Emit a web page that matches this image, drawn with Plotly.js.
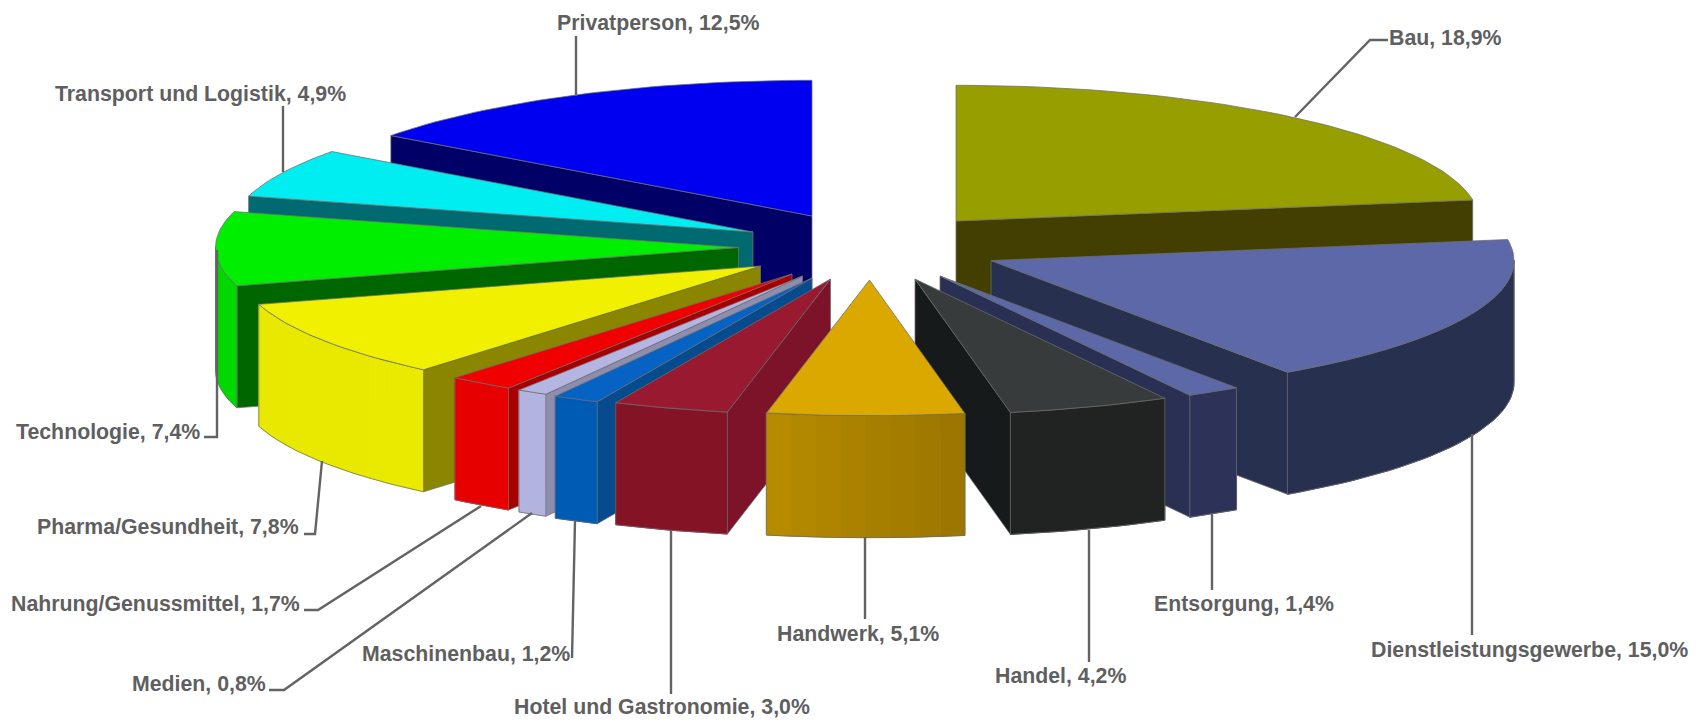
<!DOCTYPE html>
<html lang="de">
<head>
<meta charset="utf-8">
<title>Branchenverteilung</title>
<script src="https://cdn.plot.ly/plotly-3.0.1.min.js"></script>
<style>html,body{margin:0;padding:0;background:#fff}#chart{width:1702px;height:721px}</style>
</head>
<body>
<div id="chart"></div>
<script>
// Branchen in the order they run clockwise around the pie, starting at twelve o'clock
const categories = ['Bau','Dienstleistungsgewerbe','Entsorgung','Handel','Handwerk','Hotel und Gastronomie',
  'Maschinenbau','Medien','Nahrung/Genussmittel','Pharma/Gesundheit','Technologie','Transport und Logistik','Privatperson'];
const shares = [18.9,15.0,1.4,4.2,5.1,3.0,1.2,0.8,1.7,7.8,7.4,4.9,12.5];

// Colours per slice: top face, cut face, rim at its first and last angle
const topColors  = ['#969e00','#5c68a8','#5c68a8','#383b3b','#dba800','#991a30','#0663c4','#b5b5e3','#f00000','#f0f000','#00ee00','#00eef2','#0000f0'];
const cutColors  = ['#423f00','#28304f','#2a3053','#171a1b','#8a6c00','#7d1328','#074b8f','#8d8dad','#a80000','#8a8600','#006600','#006a70','#000066'];
const rimStart   = ['#423f00','#28304f','#2d3358','#212322','#9a7400','#851326','#005bb5','#b3b3e0','#e60000','#eaea00','#00d800','#00d8dc','#0000c0'];
const rimEnd     = ['#423f00','#28304f','#2d3358','#212322','#b88c00','#851326','#005bb5','#b3b3e0','#e60000','#e8e800','#00d800','#00d8dc','#0000c0'];

// Where the tip of each exploded slice sits on the page
const tipX = [956,991,940,915,869.5,830.5,812,802.5,792,760.5,738.5,753,812];
const tipY = [221,260.5,276,279,280,279,278,276,274,266,247.5,232,216];

// Back-to-front painting order
const paintOrder = [12,0,1,2,3,11,10,9,8,7,6,5,4];

const radiusX = 523, radiusY = 135.7, depth = 122;
const edge = 'rgba(110,110,110,0.75)';

// Label centres and leader polylines, in page units
const labelX = [1445,1529,1244,1060.5,857.5,662,466,199,155,168,108,200,658];
const labelY = [38,650,604,675.5,633.5,707,654,683.5,604,527,431.5,93.5,23];
const leaderX = [[1388,1370,1295],[1472,1472],[1212,1212],[1089,1089],[865,865],[671,671],[572,575],[269,284,532],[304,318,481],[304,315,322],[204,217,217],[283,283],[576,576]];
const leaderY = [[40,40,117],[635,434],[590,513],[662,530],[619,537],[694,530],[658,521],[690,690,513],[610,610,506],[534,534,461],[437,437,250],[106,172],[36,96]];

const total = shares.reduce((a, b) => a + b, 0);
const toRad = d => d * Math.PI / 180;
let running = 0;
const spans = shares.map(v => { const a = running / total * 360; running += v; return [a, running / total * 360]; });

const traces = [];
function poly(xs, ys, fill, line, width) {
  traces.push({type:'scatter', mode:'lines', x:[...xs, xs[0]], y:[...ys, ys[0]], fill:'toself', fillcolor:fill,
    line:{color:line, width:width}, hoverinfo:'skip', showlegend:false});
}
function arc(i, from, to, drop) {
  const n = Math.max(2, Math.ceil((to - from) / 1.5) + 1), xs = [], ys = [];
  for (let k = 0; k < n; k++) {
    const t = toRad(from + (to - from) * k / (n - 1));
    xs.push(tipX[i] + radiusX * Math.sin(t));
    ys.push(tipY[i] - radiusY * Math.cos(t) + drop);
  }
  return [xs, ys];
}
function mix(c1, c2, f) {
  const p = c => [1,3,5].map(j => parseInt(c.substr(j, 2), 16));
  const a = p(c1), b = p(c2);
  return 'rgb(' + a.map((v, j) => Math.round(v + (b[j] - v) * f)).join(',') + ')';
}
function cutFace(i, angle) {
  const [ex, ey] = arc(i, angle, angle, 0);
  poly([tipX[i], ex[0], ex[0], tipX[i]], [tipY[i], ey[0], ey[0] + depth, tipY[i] + depth], cutColors[i], edge, 1);
}
function drawSlice(i) {
  const [a, b] = spans[i];
  // A cut face shows only when its outward normal leans towards the viewer
  if (Math.cos(toRad(a - 90)) < 0) cutFace(i, a);
  if (Math.cos(toRad(b + 90)) < 0) cutFace(i, b);
  // Curved rim on the front half; only a colour change needs narrow shaded strips
  const from = Math.max(a, 90), to = Math.min(b, 270);
  if (to > from) {
    const strips = rimStart[i] === rimEnd[i] ? 1 : Math.max(1, Math.ceil((to - from) / 3));
    for (let s = 0; s < strips; s++) {
      const s0 = from + (to - from) * s / strips, s1 = from + (to - from) * (s + 1) / strips;
      const [tx, ty] = arc(i, s0, s1, 0), [bx, by] = arc(i, s0, s1, depth);
      const col = mix(rimStart[i], rimEnd[i], (s + 0.5) / strips);
      poly([...tx, ...bx.reverse()], [...ty, ...by.reverse()], col, col, 1);
    }
    const [tx, ty] = arc(i, from, to, 0), [bx, by] = arc(i, from, to, depth);
    poly([...tx, ...bx.reverse()], [...ty, ...by.reverse()], 'rgba(0,0,0,0)', edge, 1);
  }
  const [ax, ay] = arc(i, a, b, 0);
  poly([tipX[i], ...ax], [tipY[i], ...ay], topColors[i], edge, 1);
}
paintOrder.forEach(drawSlice);

categories.forEach((c, i) => traces.push({type:'scatter', mode:'lines', x:leaderX[i], y:leaderY[i],
  line:{color:'#636363', width:2.4}, hoverinfo:'skip', showlegend:false}));

const annotations = categories.map((c, i) => ({
  x: labelX[i], y: labelY[i], xref:'x', yref:'y', showarrow:false, xanchor:'center', yanchor:'middle',
  text: c + ', ' + shares[i].toFixed(1).replace('.', ',') + '%',
  font:{family:'"Liberation Sans", Arial, sans-serif', size:21.3, color:'#5f5f5f', weight:700}
}));

Plotly.newPlot('chart', traces, {
  width:1702, height:721, margin:{l:0,r:0,t:0,b:0}, paper_bgcolor:'#fff', plot_bgcolor:'#fff', showlegend:false,
  xaxis:{range:[0,1702], visible:false, fixedrange:true},
  yaxis:{range:[721,0], visible:false, fixedrange:true},
  annotations
}, {staticPlot:true, displayModeBar:false});
</script>
</body>
</html>
